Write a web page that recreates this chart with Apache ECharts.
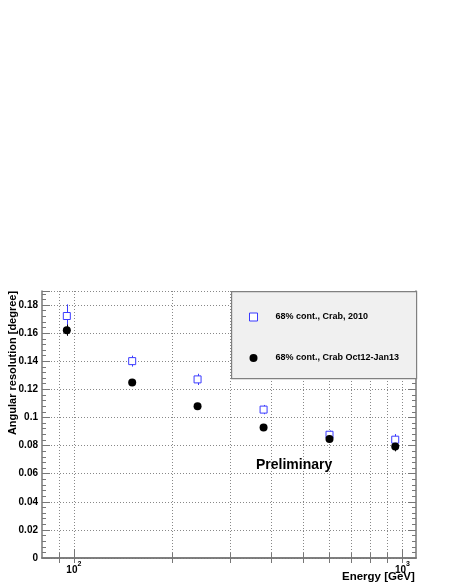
<!DOCTYPE html>
<html>
<head>
<meta charset="utf-8">
<script src="https://cdn.jsdelivr.net/npm/echarts@6/dist/echarts.min.js"></script>
<style>html,body{margin:0;padding:0;background:#fff;}#c{width:454px;height:588px;}</style>
</head>
<body>
<div id="c"></div>
<script>
// Data
const energy = [95.2, 150.5, 238, 378, 600, 951];
const res2010 = [0.1722, 0.1401, 0.1271, 0.1056, 0.0877, 0.0842];
const err2010 = [0.0083, 0.0039, 0.0040, 0.0033, 0.0030, 0.0040];
const res2013 = [0.1621, 0.1248, 0.1079, 0.0929, 0.0846, 0.0794];
const err2013 = [0.0040, 0.0020, 0.0020, 0.0020, 0.0020, 0.0035];
const xTicks = [90, 100, 200, 300, 400, 500, 600, 700, 800, 900, 1000];
const xMajorTicks = [100, 1000];
const seriesNames = ['68% cont., Crab, 2010', '68% cont., Crab Oct12-Jan13'];

const FONT = '"Liberation Sans", Arial, Helvetica, sans-serif';
const AX = '#777';
const BLUE = '#3b3bff';

function errData(x, y, e) { return x.map((v, i) => [v, y[i] - e[i], y[i] + e[i]]); }
function errSeries(name, data, color) {
  return {
    type: 'custom', name: name + ' err', z: 3, silent: true,
    data: data,
    renderItem: function (params, api) {
      const p0 = api.coord([api.value(0), api.value(1)]);
      const p1 = api.coord([api.value(0), api.value(2)]);
      const x = Math.round(p0[0]) + 0.5;
      return { type: 'line', shape: { x1: x, y1: p0[1], x2: x, y2: p1[1] },
        style: { stroke: color, lineWidth: 1 } };
    }
  };
}

const chart = echarts.init(document.getElementById('c'), null, { renderer: 'canvas' });
chart.setOption({
  animation: false,
  backgroundColor: '#fff',
  textStyle: { fontFamily: FONT },
  grid: { left: 42, right: 38, top: 291, bottom: 30, containLabel: false, outerBoundsMode: 'none' },
  xAxis: [
    {
      type: 'log', min: 80, max: 1100, position: 'bottom',
      name: 'Energy [GeV]', nameLocation: 'end', nameGap: -74, nameMoveOverlap: false,
      nameTextStyle: { fontFamily: FONT, fontWeight: 'bold', fontSize: 11.5, color: '#000', verticalAlign: 'top', padding: [13, 0, 0, 0] },
      axisLine: { show: true, lineStyle: { color: AX, width: 1.5 } },
      axisTick: { show: true, inside: true, length: 5, customValues: xTicks, lineStyle: { color: AX } },
      axisLabel: {
        customValues: xMajorTicks, margin: 3,
        formatter: function (v) { return '{a|10}{s|' + Math.round(Math.log10(v)) + '}'; },
        rich: {
          a: { fontFamily: FONT, fontWeight: 'bold', fontSize: 10, color: '#000', lineHeight: 14, verticalAlign: 'bottom' },
          s: { fontFamily: FONT, fontWeight: 'bold', fontSize: 7, color: '#000', lineHeight: 8, verticalAlign: 'top' }
        }
      },
      splitLine: { show: true, lineStyle: { color: '#888', type: [1, 2], width: 1 } }
    },
    {
      type: 'log', min: 80, max: 1100, position: 'top',
      axisLine: { show: true, lineStyle: { color: AX, width: 1.5 } },
      axisTick: { show: true, inside: true, length: 5, customValues: xTicks, lineStyle: { color: AX } },
      axisLabel: { show: false }, splitLine: { show: false }
    },
    {
      type: 'log', min: 80, max: 1100, position: 'bottom',
      axisLine: { show: false },
      axisTick: { show: true, inside: true, length: 9, customValues: xMajorTicks, lineStyle: { color: AX } },
      axisLabel: { show: false }, splitLine: { show: false }
    }
  ],
  yAxis: [
    {
      type: 'value', min: 0, max: 0.19, interval: 0.02, position: 'left',
      name: 'Angular resolution [degree]', nameLocation: 'middle', nameGap: 24, nameRotate: 90, nameMoveOverlap: false,
      nameTextStyle: { fontFamily: FONT, fontWeight: 'bold', fontSize: 11, color: '#000', padding: [0, 0, 0, 123] },
      axisLine: { show: true, lineStyle: { color: AX, width: 1.5 } },
      axisTick: { show: true, inside: true, length: 8, lineStyle: { color: AX } },
      minorTick: { show: true, splitNumber: 5, length: 4, lineStyle: { color: AX } },
      axisLabel: { showMaxLabel: false, margin: 4, fontFamily: FONT, fontWeight: 'bold', fontSize: 10, color: '#000' },
      splitLine: { show: true, lineStyle: { color: '#888', type: [1, 2], width: 1 } }
    },
    {
      type: 'value', min: 0, max: 0.19, interval: 0.02, position: 'right',
      axisLine: { show: true, lineStyle: { color: AX, width: 1.5 } },
      axisTick: { show: true, inside: true, length: 8, lineStyle: { color: AX } },
      minorTick: { show: true, splitNumber: 5, length: 4, lineStyle: { color: AX } },
      axisLabel: { show: false }, splitLine: { show: false }
    }
  ],
  legend: {
    orient: 'vertical', left: 244, top: 307, z: 10,
    itemWidth: 8, itemHeight: 8, itemGap: 31,
    selectedMode: false,
    data: seriesNames,
    itemStyle: { borderWidth: 1 },
    textStyle: { fontFamily: FONT, fontWeight: 'bold', fontSize: 9, color: '#000', padding: [0, 0, 0, 13], lineHeight: 10 }
  },
  title: {
    text: 'Preliminary', left: 251, top: 453,
    textStyle: { fontFamily: FONT, fontWeight: 'bold', fontSize: 14, color: '#000' }
  },
  graphic: [{
    type: 'rect', left: 231, top: 291, z: 5,
    shape: { width: 185, height: 87 },
    style: { fill: '#f0f0f0', stroke: '#808080', lineWidth: 1.2 }
  }],
  series: [
    errSeries(seriesNames[0], errData(energy, res2010, err2010), BLUE),
    errSeries(seriesNames[1], errData(energy, res2013, err2013), '#000'),
    {
      name: seriesNames[0], type: 'scatter', z: 4,
      data: energy.map((v, i) => [v, res2010[i]]),
      symbol: 'rect', symbolSize: 7,
      itemStyle: { color: '#fff', borderColor: BLUE, borderWidth: 1, opacity: 1 }
    },
    {
      name: seriesNames[1], type: 'scatter', z: 4,
      data: energy.map((v, i) => [v, res2013[i]]),
      symbol: 'circle', symbolSize: 8,
      itemStyle: { color: '#000', opacity: 1 }
    }
  ]
});
</script>
</body>
</html>
